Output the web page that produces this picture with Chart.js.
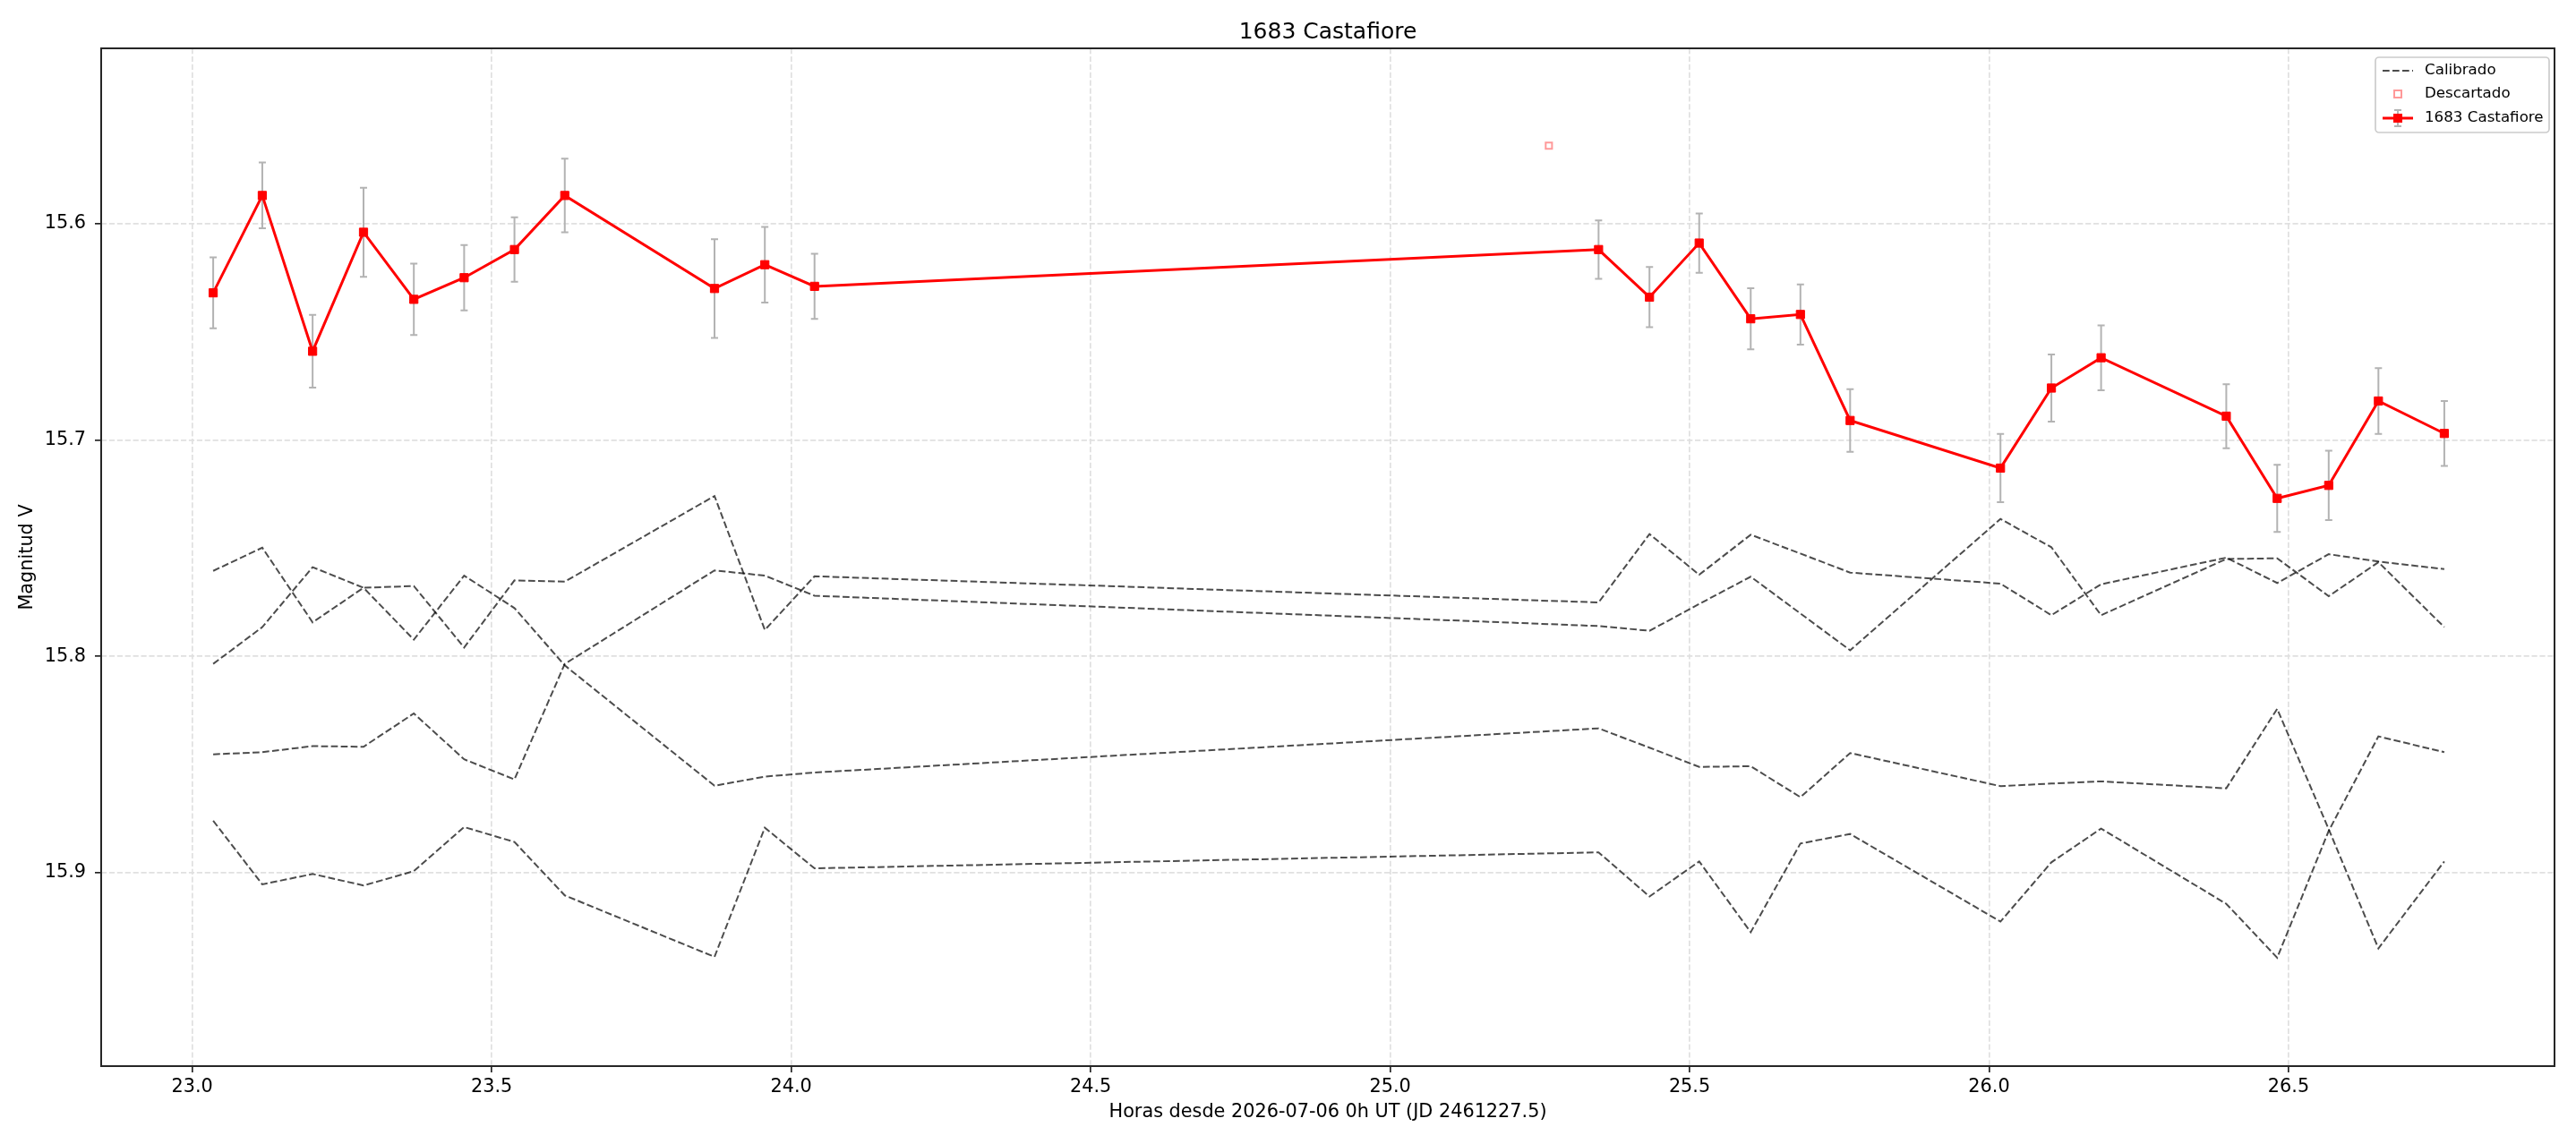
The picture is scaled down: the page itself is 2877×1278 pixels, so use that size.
<!DOCTYPE html>
<html>
<head>
<meta charset="utf-8">
<title>1683 Castafiore</title>
<script src="https://cdn.jsdelivr.net/npm/chart.js@4.4.1/dist/chart.umd.min.js"></script>
<style>
  html, body { margin: 0; padding: 0; background: #fff; }
  #chart { display: block; }
</style>
</head>
<body>
<canvas id="chart" width="2877" height="1278"></canvas>
<script>
Chart.defaults.font.family = "'DejaVu Sans', sans-serif";
Chart.defaults.color = '#000';

// horas desde 2026-07-06 0h UT
const hours = [23.035, 23.117, 23.201, 23.286, 23.370, 23.454, 23.538, 23.622, 23.872, 23.956, 24.039,
  25.348, 25.433, 25.516, 25.602, 25.685, 25.768, 26.019, 26.104, 26.187, 26.396, 26.481, 26.567, 26.650, 26.760];

// 1683 Castafiore
const magTarget = [15.632, 15.587, 15.659, 15.604, 15.635, 15.625, 15.612, 15.587, 15.630, 15.619, 15.629,
  15.612, 15.634, 15.609, 15.644, 15.642, 15.691, 15.713, 15.676, 15.662, 15.689, 15.727, 15.721, 15.682, 15.697];
const errTarget = [0.0164, 0.0152, 0.0168, 0.0206, 0.0165, 0.0151, 0.0149, 0.0170, 0.0228, 0.0175, 0.0150,
  0.0135, 0.0139, 0.0137, 0.0141, 0.0139, 0.0145, 0.0158, 0.0155, 0.0150, 0.0148, 0.0155, 0.0160, 0.0152, 0.0150];

// estrellas de calibracion
const calibA = [15.7605, 15.7498, 15.7843, 15.7683, 15.7675, 15.7959, 15.7649, 15.7655, 15.7259, 15.7878, 15.763,
  15.7751, 15.7435, 15.7623, 15.7438, 15.7525, 15.7613, 15.7664, 15.7810, 15.7667, 15.7544, 15.7661, 15.7528, 15.7562, 15.7597];
const calibB = [15.8035, 15.7865, 15.7588, 15.7683, 15.7923, 15.7627, 15.7777, 15.8042, 15.8598, 15.8556, 15.8537,
  15.8333, 15.8422, 15.8511, 15.8508, 15.8651, 15.8447, 15.8600, 15.8588, 15.8578, 15.8610, 15.8243, 15.8799, 15.9350, 15.8948];
const calibC = [15.8453, 15.8443, 15.8415, 15.8418, 15.8264, 15.8476, 15.8569, 15.8035, 15.7603, 15.7627, 15.772,
  15.7860, 15.7882, 15.7758, 15.7632, 15.7802, 15.7972, 15.7365, 15.7496, 15.7810, 15.7550, 15.7547, 15.7722, 15.7565, 15.7865];
const calibD = [15.876, 15.9054, 15.9006, 15.9059, 15.8993, 15.8789, 15.8858, 15.9105, 15.9389, 15.8792, 15.898,
  15.8906, 15.9110, 15.8948, 15.9275, 15.8865, 15.8821, 15.9226, 15.8952, 15.8796, 15.9144, 15.9393, 15.8807, 15.8370, 15.8443];

// punto descartado
const discardHours = [25.265];
const discardMags = [15.564];

const xTicks = [23.0, 23.5, 24.0, 24.5, 25.0, 25.5, 26.0, 26.5];
const yTicks = [15.6, 15.7, 15.8, 15.9];
const xRange = [22.848, 26.944];
const yRange = [15.519, 15.9894];

const pairs = function pairs(xs, ys) {
  return xs.map((x, i) => ({ x: x, y: ys[i] }));
};

const calibStyle = {
  label: 'Calibrado',
  borderColor: 'rgba(0, 0, 0, 0.7)',
  borderWidth: 2,
  borderDash: [7.7, 3.3],
  pointRadius: 0,
  fill: false,
  tension: 0
};

const errorBars = {
  id: 'errorBars',
  beforeDatasetDraw: (chart, args) => {
    if (args.index !== 0) return;
    const ctx = chart.ctx;
    const xs = chart.scales.x;
    const ys = chart.scales.y;
    ctx.save();
    ctx.strokeStyle = '#b3b3b3';
    ctx.lineWidth = 2;
    hours.forEach((h, i) => {
      const px = xs.getPixelForValue(h);
      const y1 = ys.getPixelForValue(magTarget[i] - errTarget[i]);
      const y2 = ys.getPixelForValue(magTarget[i] + errTarget[i]);
      ctx.beginPath();
      ctx.moveTo(px, y1);
      ctx.lineTo(px, y2);
      ctx.moveTo(px - 4, y1);
      ctx.lineTo(px + 4, y1);
      ctx.moveTo(px - 4, y2);
      ctx.lineTo(px + 4, y2);
      ctx.stroke();
    });
    ctx.restore();
  }
};

const frameBox = {
  id: 'frameBox',
  afterDraw: chart => {
    const ctx = chart.ctx;
    const a = chart.chartArea;
    ctx.save();
    ctx.strokeStyle = '#262626';
    ctx.lineWidth = 2;
    ctx.strokeRect(a.left, a.top, a.right - a.left, a.bottom - a.top);
    ctx.restore();
  }
};

const legendBox = {
  id: 'legendBox',
  afterDraw: chart => {
    const ctx = chart.ctx;
    const a = chart.chartArea;
    const bx = a.right - 200, by = a.top + 10, bw = 194, bh = 84;
    ctx.save();
    ctx.beginPath();
    ctx.roundRect(bx, by, bw, bh, 4);
    ctx.fillStyle = 'rgba(255, 255, 255, 0.8)';
    ctx.fill();
    ctx.strokeStyle = '#cccccc';
    ctx.lineWidth = 1.7;
    ctx.stroke();

    const lx1 = bx + 8, lx2 = bx + 42, cx = (lx1 + lx2) / 2, tx = bx + 55;
    const rows = [by + 15, by + 41, by + 68];

    // Calibrado
    ctx.strokeStyle = 'rgba(0, 0, 0, 0.7)';
    ctx.lineWidth = 2;
    ctx.setLineDash([7.7, 3.3]);
    ctx.beginPath();
    ctx.moveTo(lx1, rows[0]);
    ctx.lineTo(lx2, rows[0]);
    ctx.stroke();
    ctx.setLineDash([]);

    // Descartado
    ctx.strokeStyle = 'rgba(255, 0, 0, 0.4)';
    ctx.lineWidth = 2;
    ctx.strokeRect(cx - 4, rows[1] - 4, 8, 8);

    // 1683 Castafiore
    ctx.strokeStyle = '#b3b3b3';
    ctx.lineWidth = 2;
    ctx.beginPath();
    ctx.moveTo(cx, rows[2] - 9);
    ctx.lineTo(cx, rows[2] + 9);
    ctx.moveTo(cx - 4, rows[2] - 9);
    ctx.lineTo(cx + 4, rows[2] - 9);
    ctx.moveTo(cx - 4, rows[2] + 9);
    ctx.lineTo(cx + 4, rows[2] + 9);
    ctx.stroke();
    ctx.strokeStyle = '#ff0000';
    ctx.lineWidth = 3;
    ctx.beginPath();
    ctx.moveTo(lx1, rows[2]);
    ctx.lineTo(lx2, rows[2]);
    ctx.stroke();
    ctx.fillStyle = '#ff0000';
    ctx.fillRect(cx - 5, rows[2] - 5, 10, 10);

    ctx.fillStyle = '#000';
    ctx.font = "16.7px 'DejaVu Sans', sans-serif";
    ctx.textBaseline = 'middle';
    ctx.textAlign = 'left';
    ['Calibrado', 'Descartado', '1683 Castafiore'].forEach((t, i) => ctx.fillText(t, tx, rows[i]));
    ctx.restore();
  }
};

const chart = new Chart(document.getElementById('chart'), {
  type: 'line',
  plugins: [errorBars, frameBox, legendBox],
  data: {
    datasets: [{
      label: '1683 Castafiore',
      data: pairs(hours, magTarget),
      borderColor: '#ff0000',
      borderWidth: 3,
      pointStyle: 'rect',
      pointRadius: 6.5,
      pointBackgroundColor: '#ff0000',
      pointBorderColor: '#ff0000',
      pointBorderWidth: 1,
      fill: false,
      tension: 0
    }, {
      label: 'Descartado',
      data: pairs(discardHours, discardMags),
      showLine: false,
      pointStyle: 'rect',
      pointRadius: 5,
      pointBackgroundColor: 'rgba(255, 255, 255, 0)',
      pointBorderColor: 'rgba(255, 0, 0, 0.4)',
      pointBorderWidth: 2
    },
    Object.assign({ data: pairs(hours, calibA) }, calibStyle),
    Object.assign({ data: pairs(hours, calibB) }, calibStyle),
    Object.assign({ data: pairs(hours, calibC) }, calibStyle),
    Object.assign({ data: pairs(hours, calibD) }, calibStyle)]
  },
  options: {
    responsive: false,
    animation: false,
    devicePixelRatio: 1,
    layout: {
      padding: { top: 0, right: 24, left: 0, bottom: 0 }
    },
    plugins: {
      legend: { display: false },
      tooltip: { enabled: false },
      title: {
        display: true,
        fullSize: false,
        text: '1683 Castafiore',
        color: '#000',
        font: { size: 25, weight: 'normal' },
        padding: { top: 21, bottom: 3 }
      }
    },
    scales: {
      x: {
        type: 'linear',
        min: xRange[0],
        max: xRange[1],
        bounds: 'data',
        afterBuildTicks: s => { s.ticks = xTicks.map(v => ({ value: v })); },
        afterFit: s => { s.height = 87; },
        grid: {
          color: '#e0e0e0',
          lineWidth: 1.7,
          drawTicks: true,
          tickLength: 7,
          tickColor: '#262626',
          tickWidth: 1.7,
          tickBorderDash: []
        },
        border: { display: false, dash: [6.2, 2.7] },
        ticks: {
          color: '#000',
          font: { size: 20.8 },
          padding: 4,
          maxRotation: 0,
          autoSkip: false,
          callback: v => Number(v).toFixed(1)
        },
        title: {
          display: true,
          text: 'Horas desde 2026-07-06 0h UT (JD 2461227.5)',
          color: '#000',
          font: { size: 20.8 },
          padding: { top: 0, bottom: 22.5 }
        }
      },
      y: {
        type: 'linear',
        reverse: true,
        min: yRange[0],
        max: yRange[1],
        bounds: 'data',
        afterBuildTicks: s => { s.ticks = yTicks.map(v => ({ value: v })); },
        afterFit: s => { s.width = 113; },
        grid: {
          color: '#e0e0e0',
          lineWidth: 1.7,
          drawTicks: true,
          tickLength: 7,
          tickColor: '#262626',
          tickWidth: 1.7,
          tickBorderDash: []
        },
        border: { display: false, dash: [6.2, 2.7] },
        ticks: {
          color: '#000',
          font: { size: 20.8 },
          padding: 10,
          autoSkip: false,
          callback: v => Number(v).toFixed(1)
        },
        title: {
          display: true,
          text: 'Magnitud V',
          color: '#000',
          font: { size: 20.8 },
          padding: { top: 18.5, bottom: 0 }
        }
      }
    }
  }
});
</script>
</body>
</html>
